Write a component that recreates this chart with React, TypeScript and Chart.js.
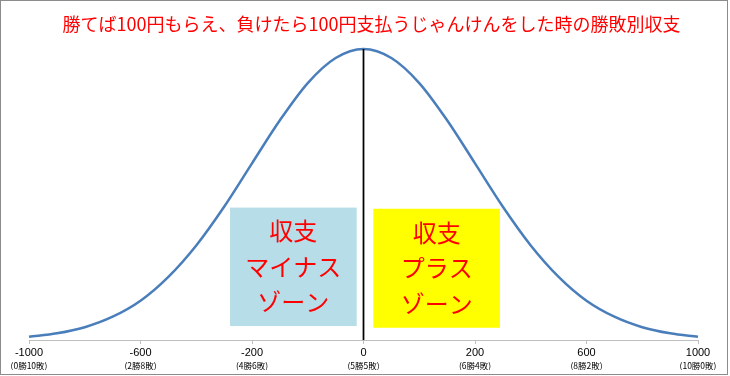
import React, { useEffect, useRef } from "react";
import { Chart, registerables } from "chart.js";

Chart.register(...registerables);

// Title
const titleText = "勝てば100円もらえ、負けたら100円支払うじゃんけんをした時の勝敗別収支";

// Curve samples: position along the axis (in label steps, 0 = 収支0) and relative height (peak = 100)
const position = [
  -3, -2.75, -2.5, -2.25, -2, -1.75, -1.5, -1.25, -1, -0.75, -0.5, -0.25,
  0, 0.25, 0.5, 0.75, 1, 1.25, 1.5, 1.75, 2, 2.25, 2.5, 2.75, 3,
];
const frequency = [
  1.1, 2.3, 4.4, 8.0, 13.5, 21.7, 32.5, 45.8, 60.7, 75.5, 88.3, 96.9,
  100, 96.9, 88.3, 75.5, 60.7, 45.8, 32.5, 21.7, 13.5, 8.0, 4.4, 2.3, 1.1,
];

// Axis ticks (evenly spaced on the axis)
const tickPositions = [-3, -2, -1, 0, 1, 2, 3];
const tickLabels = ["-1000", "-600", "-200", "0", "200", "600", "1000"];
const tickSubLabels = ["(0勝10敗)", "(2勝8敗)", "(4勝6敗)", "(5勝5敗)", "(6勝4敗)", "(8勝2敗)", "(10勝0敗)"];

// Zero line
const zeroLineX = [0, 0];
const zeroLineY = [0, 100];

// Zone boxes (in data units)
const zoneLabelsMinus = ["収支", "マイナス", "ゾーン"];
const zoneLabelsPlus = ["収支", "プラス", "ゾーン"];
const zoneMinusRange = { xFrom: -1.197, xTo: -0.061, yFrom: 4.8, yTo: 45.5 };
const zonePlusRange = { xFrom: 0.088, xTo: 1.224, yFrom: 4.2, yTo: 45.1 };

const CJK = "'Noto Sans CJK JP', 'Noto Sans', sans-serif";

const zonesPlugin = {
  id: "zones",
  afterDatasetsDraw(chart: any) {
    const ctx = chart.ctx;
    const xs = chart.scales.x;
    const ys = chart.scales.y;
    const zones = [
      { r: zoneMinusRange, labels: zoneLabelsMinus, fill: "#b7dde8" },
      { r: zonePlusRange, labels: zoneLabelsPlus, fill: "#ffff00" },
    ];
    ctx.save();
    for (const z of zones) {
      const x0 = xs.getPixelForValue(z.r.xFrom);
      const x1 = xs.getPixelForValue(z.r.xTo);
      const y0 = ys.getPixelForValue(z.r.yTo);
      const y1 = ys.getPixelForValue(z.r.yFrom);
      ctx.fillStyle = z.fill;
      ctx.fillRect(x0, y0, x1 - x0, y1 - y0);
      ctx.fillStyle = "#ff0000";
      ctx.font = `24px ${CJK}`;
      ctx.textAlign = "center";
      ctx.textBaseline = "middle";
      const cx = (x0 + x1) / 2;
      const cy = (y0 + y1) / 2;
      const step = 35.5;
      z.labels.forEach((t, i) => {
        ctx.fillText(t, cx, cy + (i - (z.labels.length - 1) / 2) * step);
      });
    }
    ctx.restore();
  },
  afterDraw(chart: any) {
    const ctx = chart.ctx;
    ctx.save();
    // title
    ctx.fillStyle = "#ff0000";
    ctx.font = `18px ${CJK}`;
    ctx.textAlign = "center";
    ctx.textBaseline = "middle";
    ctx.fillText(titleText, 371.5, 24);
    // frame
    ctx.strokeStyle = "#8c8c8c";
    ctx.lineWidth = 1;
    ctx.strokeRect(0.5, 0.5, chart.width - 3, chart.height - 2);
    ctx.restore();
  },
};

export default function App() {
  const ref = useRef<HTMLCanvasElement | null>(null);

  useEffect(() => {
    if (!ref.current) return;
    const chart = new Chart(ref.current, {
      type: "line",
      data: {
        datasets: [
          {
            data: position.map((p, i) => ({ x: p, y: frequency[i] })),
            borderColor: "#4a7ebb",
            borderWidth: 2.5,
            pointRadius: 0,
            cubicInterpolationMode: "monotone",
            fill: false,
            clip: false as any,
            order: 2,
          },
          {
            data: zeroLineX.map((x, i) => ({ x, y: zeroLineY[i] })),
            borderColor: "#000000",
            borderWidth: 1.75,
            pointRadius: 0,
            fill: false,
            clip: false as any,
            order: 1,
          },
        ],
      },
      options: {
        responsive: false,
        animation: false,
        layout: { padding: { left: 29, right: 32, top: 49, bottom: 6 } },
        plugins: {
          legend: { display: false },
          tooltip: { enabled: false },
          title: { display: false },
        },
        scales: {
          x: {
            type: "linear",
            position: "bottom",
            min: -3,
            max: 3,
            afterBuildTicks: (axis: any) => {
              axis.ticks = tickPositions.map((v) => ({ value: v }));
            },
            ticks: {
              autoSkip: false,
              maxRotation: 0,
              padding: 2.4,
              color: "#000000",
              font: { family: "'Liberation Sans', Arial, sans-serif", size: 11, lineHeight: 1.2 },
              callback: (v: any) => {
                const i = tickPositions.indexOf(Number(v));
                return i >= 0 ? tickLabels[i] : "";
              },
            },
            grid: {
              display: true,
              drawOnChartArea: false,
              drawTicks: true,
              tickLength: 4,
              color: "#bfbfbf",
            },
            border: { display: true, color: "#bfbfbf", width: 1 },
          },
          x2: {
            type: "linear",
            axis: "x",
            position: "bottom",
            min: -3,
            max: 3,
            afterBuildTicks: (axis: any) => {
              axis.ticks = tickPositions.map((v) => ({ value: v }));
            },
            ticks: {
              autoSkip: false,
              maxRotation: 0,
              padding: 0.6,
              color: "#000000",
              font: { family: CJK, size: 8.5, lineHeight: 0.8 },
              callback: (v: any) => {
                const i = tickPositions.indexOf(Number(v));
                return i >= 0 ? tickSubLabels[i] : "";
              },
            },
            grid: { display: false, drawTicks: false, tickLength: 0 },
            border: { display: false },
          },
          y: {
            type: "linear",
            display: false,
            min: 0,
            max: 100,
          },
        },
      } as any,
      plugins: [zonesPlugin],
    });
    return () => chart.destroy();
  }, []);

  return (
    <div style={{ position: "absolute", left: 0, top: 0, width: 730, height: 376, background: "#ffffff" }}>
      <canvas ref={ref} width={730} height={376} />
    </div>
  );
}
